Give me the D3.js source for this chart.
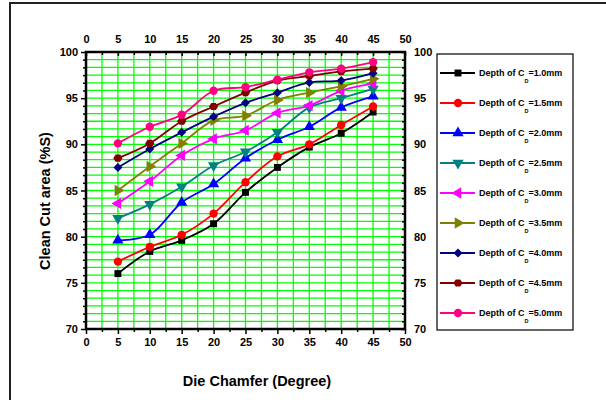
<!DOCTYPE html>
<html>
<head>
<meta charset="utf-8">
<script src="https://d3js.org/d3.v7.min.js"></script>
<style>
  body { margin: 0; background: #fff; }
  text { font-family: "Liberation Sans", Arial, sans-serif; font-weight: bold; }
</style>
</head>
<body>
<div id="chart"></div>
<script>

// Die chamfer angles (degree)
var chamfer = [5, 10, 15, 20, 25, 30, 35, 40, 45];

// Depth of chamfer labels
var depths = ["1.0", "1.5", "2.0", "2.5", "3.0", "3.5", "4.0", "4.5", "5.0"];

// Clean cut area (%S) for each depth
var cut10 = [76.0, 78.4, 79.6, 81.4, 84.8, 87.5, 89.7, 91.2, 93.5];
var cut15 = [77.3, 78.9, 80.2, 82.5, 85.9, 88.7, 90.0, 92.1, 94.1];
var cut20 = [79.6, 80.2, 83.7, 85.7, 88.5, 90.5, 91.9, 94.0, 95.2];
var cut25 = [82.0, 83.5, 85.4, 87.7, 89.2, 91.3, 94.0, 95.0, 96.0];
var cut30 = [83.6, 86.0, 88.8, 90.6, 91.5, 93.4, 94.2, 95.8, 96.6];
var cut35 = [85.0, 87.6, 90.1, 92.6, 93.1, 94.8, 95.6, 96.3, 97.1];
var cut40 = [87.5, 89.5, 91.3, 93.0, 94.5, 95.6, 96.7, 96.9, 97.7];
var cut45 = [88.5, 90.1, 92.5, 94.1, 95.6, 96.9, 97.4, 97.9, 98.2];
var cut50 = [90.1, 91.9, 93.2, 95.8, 96.2, 97.0, 97.8, 98.2, 98.9];

var allCuts = [cut10, cut15, cut20, cut25, cut30, cut35, cut40, cut45, cut50];

var colors = ["#000000", "#ff0000", "#0000ff", "#008080", "#ff00ff",
              "#808000", "#000080", "#800000", "#ff0080"];

// hexagon symbol for the 4.5mm series
var symbolHexagon = {
    draw: function(context, size) {
        var r = Math.sqrt(size / 2.598);
        for (var k = 0; k < 6; k++) {
            var a = Math.PI / 3 * k;
            var px = r * Math.cos(a), py = r * Math.sin(a) * 0.9;
            if (k === 0) context.moveTo(px, py); else context.lineTo(px, py);
        }
        context.closePath();
    }
};

// symbol type, size and rotation for each series
var markers = [
    {type: d3.symbolSquare, size: 48, rot: 0},
    {type: d3.symbolCircle, size: 55, rot: 0},
    {type: d3.symbolTriangle, size: 55, rot: 0},
    {type: d3.symbolTriangle, size: 55, rot: 180},
    {type: d3.symbolTriangle, size: 55, rot: -90},
    {type: d3.symbolTriangle, size: 55, rot: 90},
    {type: d3.symbolSquare, size: 40, rot: 45},
    {type: symbolHexagon, size: 55, rot: 0},
    {type: d3.symbolCircle, size: 55, rot: 0}
];

var width = 606, height = 400;
var margin = {top: 52, left: 86},
    plotW = 319,
    plotH = 277;

var svg = d3.select("#chart").append("svg")
    .attr("width", width)
    .attr("height", height);

// outer frame
svg.append("rect")
    .attr("x", 10).attr("y", 3)
    .attr("width", 620).attr("height", 420)
    .attr("fill", "none")
    .attr("stroke", "#222")
    .attr("stroke-width", 2);

var g = svg.append("g")
    .attr("transform", "translate(" + margin.left + "," + margin.top + ")");

var x = d3.scaleLinear().domain([0, 50]).range([0, plotW]);
var y = d3.scaleLinear().domain([70, 100]).range([plotH, 0]);

// ****************** grid ***************************
var vGrid = d3.range(0, 50.01, 2.5);
var hGrid = d3.range(0, 37).map(function(i) { return 70 + i * 5 / 6; });

g.selectAll("line.vgrid")
    .data(vGrid)
    .enter().append("line")
    .attr("class", "vgrid")
    .attr("x1", function(d) { return x(d); })
    .attr("x2", function(d) { return x(d); })
    .attr("y1", 0).attr("y2", plotH)
    .attr("stroke", "#00ff00")
    .attr("stroke-width", 1.3);

g.selectAll("line.hgrid")
    .data(hGrid)
    .enter().append("line")
    .attr("class", "hgrid")
    .attr("x1", 0).attr("x2", plotW)
    .attr("y1", function(d) { return y(d); })
    .attr("y2", function(d) { return y(d); })
    .attr("stroke", "#00ff00")
    .attr("stroke-width", 1.3);

// ****************** axes ***************************
var xTicks = d3.range(0, 51, 5);
var yTicks = d3.range(70, 101, 5);

function styleAxis(sel) {
    sel.selectAll("text")
        .style("font-size", "11px")
        .style("font-weight", "bold")
        .attr("fill", "#000");
    sel.selectAll("line").attr("stroke", "#000").attr("stroke-width", 1.5);
    sel.select(".domain").remove();
}

// minor ticks
function minorTicks(axis, vals, size) {
    return axis.tickValues(vals).tickSize(size).tickFormat("");
}

var xMinor = d3.range(2.5, 50, 5);
var yMinor = hGrid.filter(function(d) { return Math.abs((d - 70) % 5) > 0.01 && Math.abs((d - 70) % 5 - 5) > 0.01; });

g.append("g").attr("transform", "translate(0," + plotH + ")")
    .call(d3.axisBottom(x).tickValues(xTicks).tickSize(5).tickPadding(4))
    .call(styleAxis);
g.append("g").attr("transform", "translate(0," + plotH + ")")
    .call(minorTicks(d3.axisBottom(x), xMinor, 3))
    .call(styleAxis);

g.append("g")
    .call(d3.axisTop(x).tickValues(xTicks).tickSize(-4).tickPadding(9))
    .call(styleAxis);
g.append("g")
    .call(minorTicks(d3.axisTop(x), xMinor, -3))
    .call(styleAxis);

g.append("g")
    .call(d3.axisLeft(y).tickValues(yTicks).tickSize(5).tickPadding(3))
    .call(styleAxis);
g.append("g")
    .call(minorTicks(d3.axisLeft(y), yMinor, 3))
    .call(styleAxis);

g.append("g").attr("transform", "translate(" + plotW + ",0)")
    .call(d3.axisRight(y).tickValues(yTicks).tickSize(-4).tickPadding(9))
    .call(styleAxis);
g.append("g").attr("transform", "translate(" + plotW + ",0)")
    .call(minorTicks(d3.axisRight(y), yMinor, -3))
    .call(styleAxis);

// plot frame
g.append("rect")
    .attr("width", plotW).attr("height", plotH)
    .attr("fill", "none")
    .attr("stroke", "#000")
    .attr("stroke-width", 2.5);

// ****************** series ***************************
var line = d3.line()
    .x(function(d, i) { return x(chamfer[i]); })
    .y(function(d) { return y(d); })
    .curve(d3.curveCatmullRom.alpha(0.5));

allCuts.forEach(function(vals, s) {
    g.append("path")
        .datum(vals)
        .attr("d", line)
        .attr("fill", "none")
        .attr("stroke", colors[s])
        .attr("stroke-width", 1.8);

    g.selectAll("path.m" + s)
        .data(vals)
        .enter().append("path")
        .attr("class", "m" + s)
        .attr("d", d3.symbol().type(markers[s].type).size(markers[s].size))
        .attr("transform", function(d, i) {
            return "translate(" + x(chamfer[i]) + "," + y(d) + ") rotate(" + markers[s].rot + ")";
        })
        .attr("fill", colors[s]);
});

// ****************** titles ***************************
svg.append("text")
    .attr("x", 257).attr("y", 386)
    .attr("text-anchor", "middle")
    .style("font-size", "14.5px")
    .text("Die Chamfer (Degree)");

svg.append("text")
    .attr("transform", "translate(50,201) rotate(-90)")
    .attr("text-anchor", "middle")
    .style("font-size", "14.5px")
    .text("Clean Cut area (%S)");

// ****************** legend ***************************
var legend = svg.append("g");
legend.append("rect")
    .attr("x", 437).attr("y", 54)
    .attr("width", 136).attr("height", 276)
    .attr("fill", "none")
    .attr("stroke", "#000")
    .attr("stroke-width", 1.2);

depths.forEach(function(dp, s) {
    var ly = 73 + s * 30;
    legend.append("line")
        .attr("x1", 440).attr("x2", 475)
        .attr("y1", ly).attr("y2", ly)
        .attr("stroke", colors[s])
        .attr("stroke-width", 1.8);
    legend.append("path")
        .attr("d", d3.symbol().type(markers[s].type).size(markers[s].size))
        .attr("transform", "translate(458," + ly + ") rotate(" + markers[s].rot + ")")
        .attr("fill", colors[s]);
    var t = legend.append("text")
        .attr("x", 479).attr("y", ly + 3)
        .style("font-size", "9px");
    t.append("tspan").text("Depth of C");
    t.append("tspan").attr("dy", 7).style("font-size", "5.5px").text("D");
    t.append("tspan").attr("dy", -7).text("=" + dp + "mm");
});

</script>
</body>
</html>
